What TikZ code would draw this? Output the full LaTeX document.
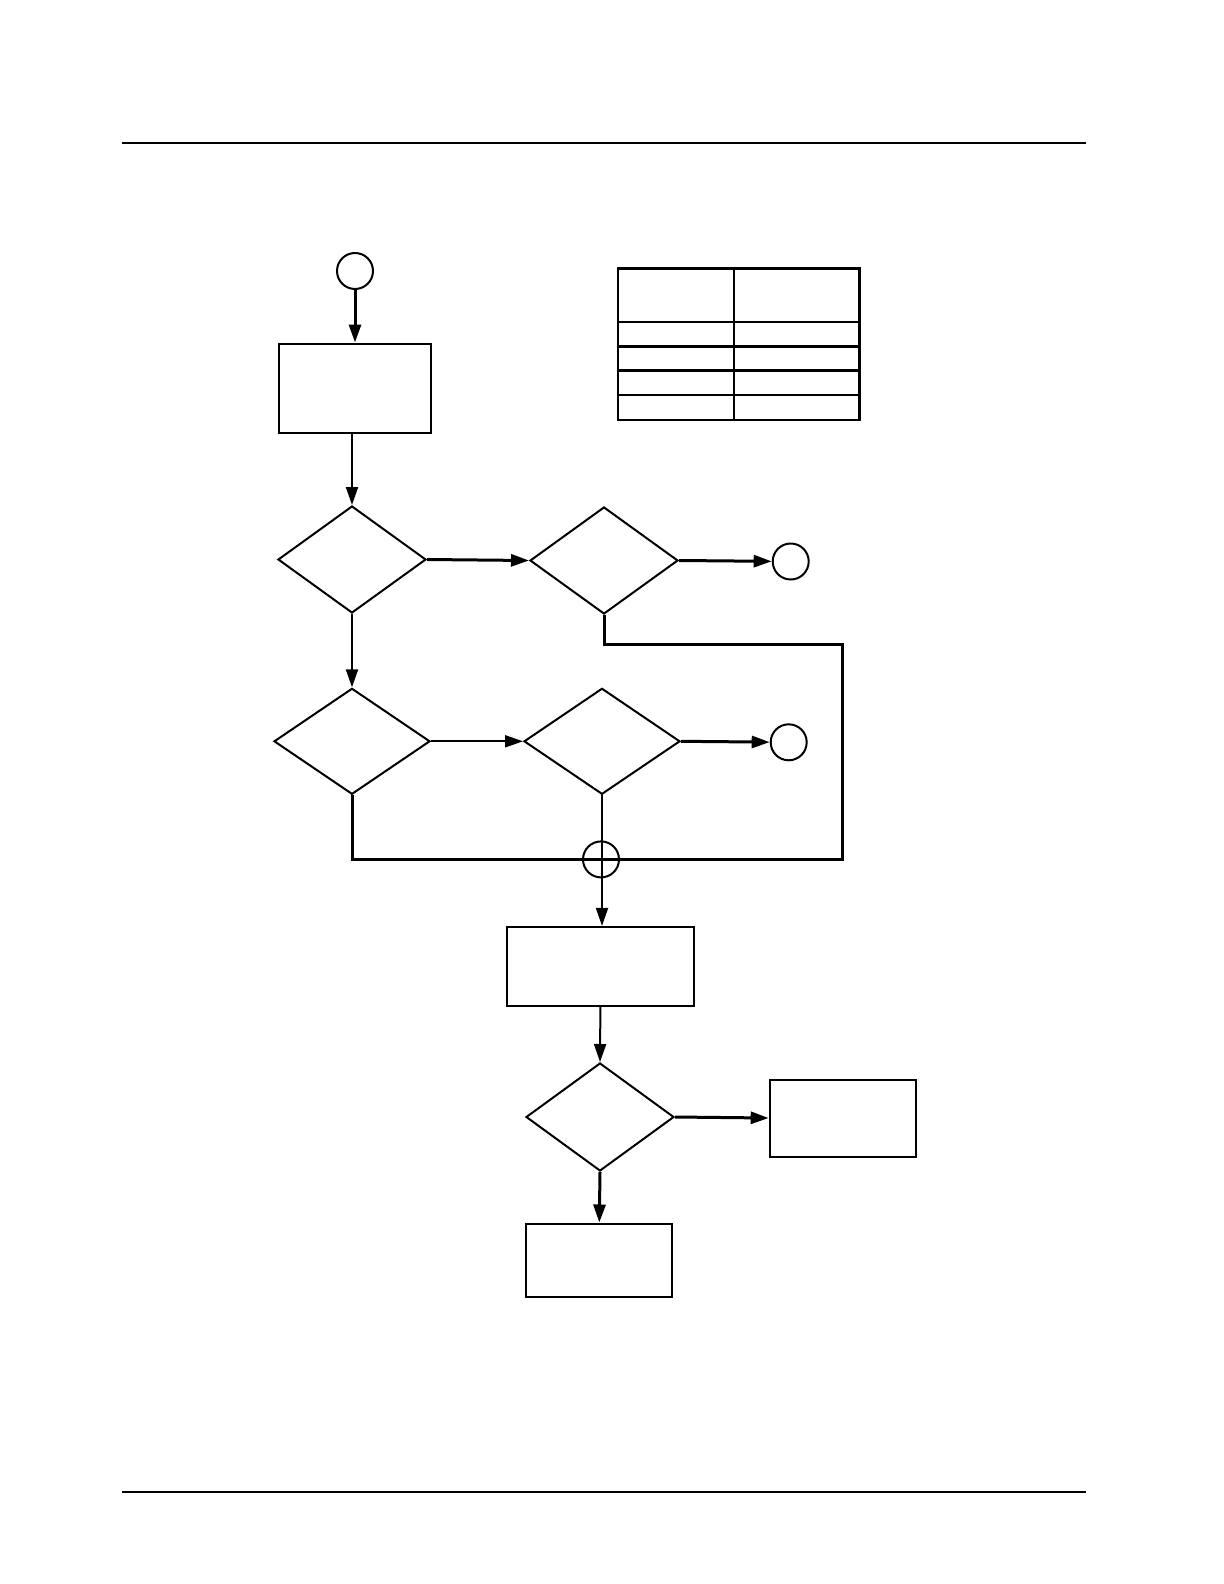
\documentclass[tikz,border=0pt]{standalone}
\usetikzlibrary{shapes.geometric,arrows.meta}

\tikzset{
  box/.style={draw, line width=1pt, rectangle, inner sep=0pt},
  decision/.style={draw, line width=1pt, diamond, inner sep=0pt},
  connector/.style={draw, line width=1pt, circle, inner sep=0pt, minimum size=18pt},
  link/.style={line width=1pt, -{Triangle[length=9pt,width=6pt]}},
  boldlink/.style={link, line width=1.5pt},
}

\begin{document}
\begin{tikzpicture}[x=0.5pt, y=-0.5pt]
        % Page frame
        \useasboundingbox (0,0) rectangle (1224,1584);
        \coordinate (rt1) at (122,143);
        \coordinate (rt2) at (1086,143);
        \coordinate (rb1) at (122,1492);
        \coordinate (rb2) at (1086,1492);
        \draw[line width=0.8pt] (rt1) -- (rt2);
        \draw[line width=0.8pt] (rb1) -- (rb2);

        % Start and first step
        \node[connector] (start) at (355,271) {};
        \node[box, minimum width=76pt, minimum height=44.5pt] (box1) at (355,388) {};

        % Table
        \coordinate (tnw) at (618,268.6);
        \coordinate (tse) at (859.4,420.1);
        \draw[line width=1.2pt] (tnw) rectangle (tse);
        \draw[line width=1.2pt] (734.2,268.6) -- (734.2,420.1);
        \foreach \ry in {322.2, 346.4, 370.6, 394.9}
            \draw[line width=1.2pt] (618,\ry) -- (859.4,\ry);

        % Decisions
        \node[decision, minimum width=74pt, minimum height=53.5pt] (d1) at (352,559.5) {};
        \node[decision, minimum width=74pt, minimum height=53.5pt] (d2) at (604,560.5) {};
        \node[connector] (c1) at (790.7,561.5) {};
        \node[decision, minimum width=78pt, minimum height=53pt] (d3) at (352,741.3) {};
        \node[decision, minimum width=78pt, minimum height=53pt] (d4) at (602,741.3) {};
        \node[connector] (c2) at (788.7,742.3) {};

        % Merge point
        \node[connector] (join) at (601,859.4) {};
        \coordinate (loopa) at (604,644.3);
        \coordinate (loopb) at (842.3,644.3);
        \coordinate (loopc) at (842.3,859.4);

        % Lower part
        \node[box, minimum width=93.5pt, minimum height=39.5pt] (box2) at (600.4,966.4) {};
        \node[decision, minimum width=74pt, minimum height=54pt] (d5) at (600,1117) {};
        \node[box, minimum width=73pt, minimum height=38.5pt] (box3) at (842.7,1118) {};
        \node[box, minimum width=73pt, minimum height=36.5pt] (box4) at (599.3,1260) {};

        % Connections
        \draw[boldlink] (start) -- (box1);
        \draw[link] (box1.south -| d1.north) -- (d1.north);
        \draw[boldlink] (d1.east) -- (d2.west);
        \draw[boldlink] (d2.east) -- (c1);
        \draw[link] (d1.south) -- (d3.north);
        \draw[link] (d3.east) -- (d4.west);
        \draw[boldlink] (d4.east) -- (c2);
        \draw[line width=1.5pt] (d2.south) -- (loopa) -- (loopb) -- (loopc) -- (loopc -| d3.south) -- (d3.south);
        \draw[link] (d4.south) -- (d4.south |- box2.north);
        \draw[link] (box2.south) -- (d5.north);
        \draw[boldlink] (d5.east) -- (box3.west);
        \draw[boldlink] (d5.south) -- (box4.north);

    \end{tikzpicture}
\end{document}
